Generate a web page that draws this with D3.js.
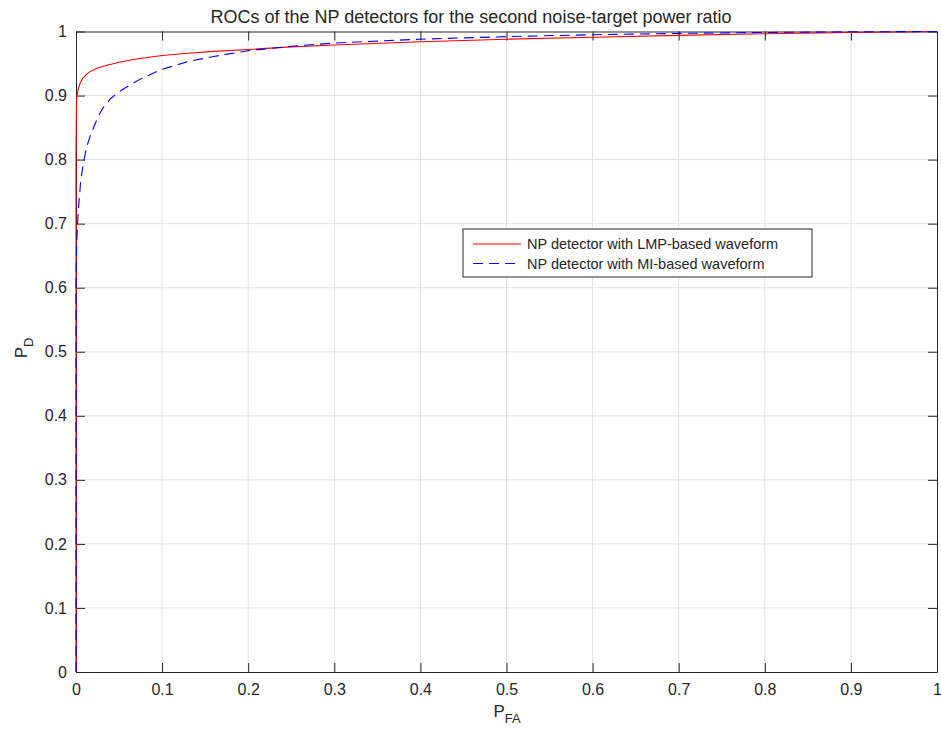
<!DOCTYPE html>
<html>
<head>
<meta charset="utf-8">
<script src="https://cdn.jsdelivr.net/npm/d3@7"></script>
<style>
  body { margin: 0; background: #fff; }
  svg text { font-family: "Liberation Sans", Arial, Helvetica, sans-serif; fill: #262626; }
</style>
</head>
<body>
<svg id="chart"></svg>
<script>
// ROC curves
const lmpPfa = [0, 0, 0.0005, 0.001, 0.002, 0.003, 0.005, 0.008, 0.012, 0.016, 0.025, 0.035, 0.05, 0.07, 0.1, 0.13, 0.16, 0.2, 0.25, 0.3, 0.4, 0.5, 0.6, 0.7, 0.8, 0.9, 1];
const lmpPd  = [0, 0.8, 0.885, 0.898, 0.906, 0.912, 0.92, 0.927, 0.933, 0.937, 0.943, 0.947, 0.952, 0.957, 0.9625, 0.966, 0.969, 0.972, 0.976, 0.979, 0.984, 0.988, 0.991, 0.994, 0.9965, 0.9985, 1];

const miPfa = [0, 0, 0.0005, 0.001, 0.002, 0.003, 0.0055, 0.0093, 0.0125, 0.016, 0.021, 0.026, 0.032, 0.04, 0.05, 0.062, 0.075, 0.1, 0.13, 0.16, 0.2, 0.25, 0.3, 0.4, 0.5, 0.6, 0.7, 0.8, 0.9, 1];
const miPd  = [0, 0.6, 0.65, 0.675, 0.705, 0.725, 0.768, 0.8, 0.82, 0.835, 0.852, 0.868, 0.882, 0.895, 0.906, 0.916, 0.926, 0.941, 0.953, 0.961, 0.970, 0.977, 0.982, 0.988, 0.992, 0.995, 0.997, 0.9985, 0.9995, 1];

const tickValues = [0, 0.1, 0.2, 0.3, 0.4, 0.5, 0.6, 0.7, 0.8, 0.9, 1];
const seriesNames = ["NP detector with LMP-based waveform", "NP detector with MI-based waveform"];

const W = 941, H = 734;
const margin = {top: 31.5, right: 4, bottom: 62, left: 76};
const width = W - margin.left - margin.right;
const height = H - margin.top - margin.bottom;
const dash = '10,6';

const svg = d3.select('#chart').attr('width', W).attr('height', H);

const x = d3.scaleLinear().domain([0, 1]).range([0, width]);
const y = d3.scaleLinear().domain([0, 1]).range([height, 0]);

const chart = svg.append('g')
  .attr('transform', `translate(${margin.left},${margin.top})`);

// grid
chart.append('g').selectAll('line')
  .data(tickValues.slice(1, -1))
  .join('line')
  .attr('x1', d => x(d)).attr('x2', d => x(d))
  .attr('y1', 0).attr('y2', height)
  .attr('stroke', '#e3e3e3').attr('stroke-width', 1);
chart.append('g').selectAll('line')
  .data(tickValues.slice(1, -1))
  .join('line')
  .attr('y1', d => y(d)).attr('y2', d => y(d))
  .attr('x1', 0).attr('x2', width)
  .attr('stroke', '#e3e3e3').attr('stroke-width', 1);

const fmt = d => String(+d.toFixed(1));
const tickLen = 9;

// axes (ticks inward, MATLAB style box)
const xAxis = d3.axisBottom(x).tickValues(tickValues).tickFormat(fmt).tickSizeInner(-tickLen).tickSizeOuter(0).tickPadding(12);
const yAxis = d3.axisLeft(y).tickValues(tickValues).tickFormat(fmt).tickSizeInner(-tickLen).tickSizeOuter(0).tickPadding(9);
const xTop = d3.axisTop(x).tickValues(tickValues).tickFormat('').tickSizeInner(-tickLen).tickSizeOuter(0);
const yRight = d3.axisRight(y).tickValues(tickValues).tickFormat('').tickSizeInner(-tickLen).tickSizeOuter(0);

const gx = chart.append('g').attr('transform', `translate(0,${height})`).call(xAxis);
const gy = chart.append('g').call(yAxis);
const gt = chart.append('g').call(xTop);
const gr = chart.append('g').attr('transform', `translate(${width},0)`).call(yRight);

[gx, gy, gt, gr].forEach(g => {
  g.selectAll('path, line').attr('stroke', '#262626').attr('stroke-width', 1);
  g.selectAll('text').style('font-size', '16px').attr('fill', '#262626');
});

// curves
const line = d3.line().x(d => x(d[0])).y(d => y(d[1]));

chart.append('path').datum(d3.zip(lmpPfa, lmpPd))
  .attr('d', line).attr('fill', 'none')
  .attr('stroke', '#ff0000').attr('stroke-width', 1.1);
chart.append('path').datum(d3.zip(miPfa, miPd))
  .attr('d', line).attr('fill', 'none')
  .attr('stroke', '#0000ff').attr('stroke-width', 1.1)
  .attr('stroke-dasharray', dash);

// title
svg.append('text')
  .attr('x', 471).attr('y', 23)
  .attr('text-anchor', 'middle')
  .style('font-size', '18px')
  .text('ROCs of the NP detectors for the second noise-target power ratio');

// axis labels with subscripts
const xl = svg.append('text')
  .attr('x', 507).attr('y', 717)
  .attr('text-anchor', 'middle')
  .style('font-size', '17px');
xl.append('tspan').text('P');
xl.append('tspan').attr('dy', 6).style('font-size', '13px').text('FA');

const yl = svg.append('text')
  .attr('transform', 'translate(27,348) rotate(-90)')
  .attr('text-anchor', 'middle')
  .style('font-size', '17px');
yl.append('tspan').text('P');
yl.append('tspan').attr('dy', 6).style('font-size', '13px').text('D');

// legend
const lg = svg.append('g').attr('transform', 'translate(463,229)');
lg.append('rect')
  .attr('width', 349).attr('height', 48)
  .attr('fill', '#fff').attr('stroke', '#262626').attr('stroke-width', 1);
const legendStyles = [{c: '#ff0000', dash: null}, {c: '#0000ff', dash: dash}];
seriesNames.forEach((name, i) => {
  const yy = 15 + i * 19.5;
  lg.append('line')
    .attr('x1', 10).attr('x2', 58).attr('y1', yy).attr('y2', yy)
    .attr('stroke', legendStyles[i].c).attr('stroke-width', 1.1)
    .attr('stroke-dasharray', legendStyles[i].dash);
  lg.append('text')
    .attr('x', 64).attr('y', yy + 5)
    .style('font-size', '14.5px')
    .text(name);
});
</script>
</body>
</html>
